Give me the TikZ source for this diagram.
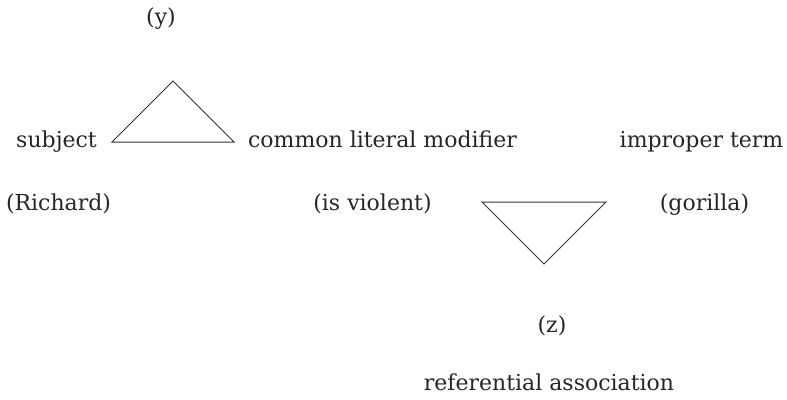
\documentclass[tikz,border=0pt]{standalone}
\usepackage{fontspec}
\setmainfont{DejaVu Serif}
\begin{document}
\begin{tikzpicture}[x=1pt,y=-1pt,
  lbl/.style={anchor=base,inner sep=0pt,text=black!85,font=\fontsize{22}{26}\selectfont},
  tri/.style={draw=black!80,line width=1pt,line join=miter}]
\useasboundingbox (0,0) rectangle (787,399);
\node[lbl] (y) at (161,24) {(y)};
\node[lbl] (subj) at (56.5,147) {subject};
\node[lbl] (clm) at (382.5,147) {common literal modifier};
\node[lbl] (imp) at (701.5,147) {improper term};
\node[lbl] (rich) at (58.5,210) {(Richard)};
\node[lbl] (viol) at (372.5,210) {(is violent)};
\node[lbl] (gor) at (704.5,210) {(gorilla)};
\node[lbl] (z) at (552,332) {(z)};
\node[lbl] (ref) at (549,390) {referential association};
\coordinate (a1) at (173,81);
\coordinate (b1) at (112,142);
\coordinate (c1) at (234,142);
\draw[tri] (a1) -- (c1) -- (b1) -- cycle;
\coordinate (a2) at (544,264);
\coordinate (b2) at (482,202);
\coordinate (c2) at (606,202);
\draw[tri] (a2) -- (c2) -- (b2) -- cycle;
\end{tikzpicture}
\end{document}
